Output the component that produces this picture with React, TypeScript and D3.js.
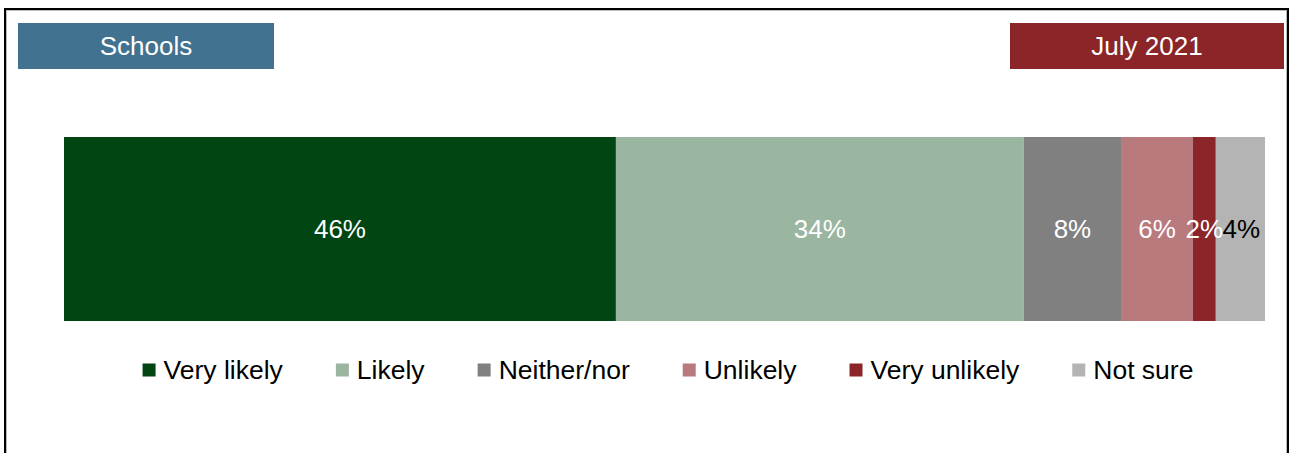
import React, { useEffect, useRef } from "react";
import * as d3 from "d3";

const categories = ["Very likely", "Likely", "Neither/nor", "Unlikely", "Very unlikely", "Not sure"];
const values = [46.0, 34.0, 8.1, 6.0, 1.9, 4.1];
const colors = ["#014513", "#9AB5A0", "#808080", "#B87A7C", "#8B2529", "#B4B4B4"];
const labelColors = ["#FFFFFF", "#FFFFFF", "#FFFFFF", "#FFFFFF", "#FFFFFF", "#000000"];
const leftTitle = "Schools";
const rightTitle = "July 2021";

const W = 1291;
const H = 453;
const FONT = "Arial, 'Liberation Sans', Helvetica, sans-serif";

export default function App() {
  const ref = useRef<SVGSVGElement | null>(null);

  useEffect(() => {
    const svg = d3.select(ref.current);
    svg.selectAll("*").remove();

    // frame
    svg.append("rect").attr("x", 5).attr("y", 9).attr("width", 1283).attr("height", 460)
      .attr("fill", "#fff").attr("stroke", "#000").attr("stroke-width", 2);
    svg.append("rect").attr("x", 6.5).attr("y", 10.5).attr("width", 1280).attr("height", 460)
      .attr("fill", "none").attr("stroke", "#bbb").attr("stroke-width", 1);

    // title boxes
    const boxes = [
      { x: 18, w: 256, fill: "#41728F", text: leftTitle },
      { x: 1010, w: 274, fill: "#8B2528", text: rightTitle },
    ];
    boxes.forEach((b) => {
      svg.append("rect").attr("x", b.x).attr("y", 23).attr("width", b.w).attr("height", 46).attr("fill", b.fill);
      svg.append("text").attr("x", b.x + b.w / 2).attr("y", 55).attr("text-anchor", "middle")
        .attr("font-family", FONT).attr("font-size", 26).attr("fill", "#fff").text(b.text);
    });

    // stacked bar
    const total = d3.sum(values);
    const x = d3.scaleLinear().domain([0, total]).range([64, 1265]);
    const y0 = 137, y1 = 321;
    const cum = d3.cumsum(values);
    const segs = values.map((v, i) => ({ v, i, start: cum[i] - v, end: cum[i] }));

    const g = svg.append("g");
    g.selectAll("rect.seg").data(segs).join("rect").attr("class", "seg")
      .attr("x", (d) => x(d.start)).attr("y", y0)
      .attr("width", (d) => x(d.end) - x(d.start)).attr("height", y1 - y0)
      .attr("fill", (d) => colors[d.i]);

    g.selectAll("text.lbl").data(segs).join("text").attr("class", "lbl")
      .attr("x", (d) => (x(d.start) + x(d.end)) / 2 + (d.i === 5 ? 1 : 0))
      .attr("y", (y0 + y1) / 2 + 9)
      .attr("text-anchor", "middle").attr("font-family", FONT).attr("font-size", 26)
      .attr("fill", (d) => labelColors[d.i])
      .text((d) => `${Math.round(d.v)}%`);

    // legend
    const lg = svg.append("g");
    const sq = 13, gapSq = 8, gapItem = 53;
    const items = categories.map((c, i) => {
      const gi = lg.append("g");
      gi.append("rect").attr("width", sq).attr("height", sq).attr("y", -sq / 2).attr("fill", colors[i]);
      const t = gi.append("text").attr("x", sq + gapSq).attr("y", 9)
        .attr("font-family", FONT).attr("font-size", 26.5).attr("fill", "#000").text(c);
      const tw = (t.node() as SVGTextElement).getComputedTextLength();
      return { gi, w: sq + gapSq + tw };
    });
    const totalW = d3.sum(items, (d) => d.w) + gapItem * (items.length - 1);
    let cx = (64 + 1265) / 2 + 3.5 - totalW / 2;
    items.forEach((it) => {
      it.gi.attr("transform", `translate(${cx},370)`);
      cx += it.w + gapItem;
    });
  }, []);

  return (
    <svg ref={ref} width={W} height={H} style={{ position: "absolute", left: 0, top: 0, background: "#fff" }} />
  );
}
